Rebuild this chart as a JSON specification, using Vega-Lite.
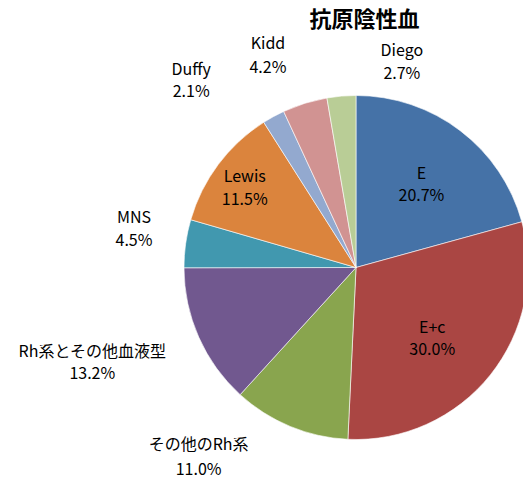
{
  "$schema": "https://vega.github.io/schema/vega-lite/v6.json",
  "width": 523,
  "height": 447,
  "autosize": {"type": "none"},
  "padding": {"top": 30, "left": 0, "right": 0, "bottom": 0},
  "background": "white",
  "title": {"text": "抗原陰性血", "font": "Noto Sans CJK JP", "fontSize": 22, "fontWeight": "bold", "color": "#000000", "anchor": "middle", "frame": "group", "baseline": "bottom", "offset": 0, "dx": 103, "dy": 27},
  "data": {"values": [
    {"idx": 1, "name": "E", "value": 20.7, "label": "E\n20.7%"},
    {"idx": 2, "name": "E+c", "value": 30.0, "label": "E+c\n30.0%"},
    {"idx": 3, "name": "その他のRh系", "value": 11.0, "label": "その他のRh系\n11.0%"},
    {"idx": 4, "name": "Rh系とその他血液型", "value": 13.2, "label": "Rh系とその他血液型\n13.2%"},
    {"idx": 5, "name": "MNS", "value": 4.5, "label": "MNS\n4.5%"},
    {"idx": 6, "name": "Lewis", "value": 11.5, "label": "Lewis\n11.5%"},
    {"idx": 7, "name": "Duffy", "value": 2.1, "label": "Duffy\n2.1%"},
    {"idx": 8, "name": "Kidd", "value": 4.2, "label": "Kidd\n4.2%"},
    {"idx": 9, "name": "Diego", "value": 2.7, "label": "Diego\n2.7%"}
  ]},
  "encoding": {
    "theta": {"field": "value", "type": "quantitative", "stack": true},
    "order": {"field": "idx", "type": "quantitative"},
    "x": {"value": 356},
    "y": {"value": 237.5}
  },
  "layer": [
    {
      "mark": {"type": "arc", "outerRadius": 172, "stroke": "#ffffff", "strokeWidth": 0.6},
      "encoding": {
        "color": {"field": "name", "type": "nominal", "legend": null,
          "scale": {"domain": ["E", "E+c", "その他のRh系", "Rh系とその他血液型", "MNS", "Lewis", "Duffy", "Kidd", "Diego"],
                    "range": ["#4572A7", "#AA4643", "#89A54E", "#71588F", "#4198AF", "#DB843D", "#93A9CF", "#D19392", "#B9CD96"]}}
      }
    },
    {
      "mark": {"type": "text", "radius": 108, "dy": -8, "font": "Noto Sans CJK JP", "fontSize": 16, "lineHeight": 22, "lineBreak": "\n", "baseline": "middle", "align": "center", "color": "#000000"},
      "encoding": {"text": {"condition": {"test": "datum.name === 'E'", "field": "label"}, "value": ""}}
    },
    {
      "mark": {"type": "text", "radius": 104, "dx": -5, "dy": -4, "font": "Noto Sans CJK JP", "fontSize": 16, "lineHeight": 22, "lineBreak": "\n", "baseline": "middle", "align": "center", "color": "#000000"},
      "encoding": {"text": {"condition": {"test": "datum.name === 'E+c'", "field": "label"}, "value": ""}}
    },
    {
      "mark": {"type": "text", "radius": 139, "dy": -7, "font": "Noto Sans CJK JP", "fontSize": 16, "lineHeight": 23, "lineBreak": "\n", "baseline": "middle", "align": "center", "color": "#000000"},
      "encoding": {"text": {"condition": {"test": "datum.name === 'Lewis'", "field": "label"}, "value": ""}}
    },
    {
      "mark": {"type": "text", "radius": 202, "dx": -80, "dy": -9, "font": "Noto Sans CJK JP", "fontSize": 16, "lineHeight": 25, "lineBreak": "\n", "baseline": "middle", "align": "center", "color": "#000000"},
      "encoding": {"text": {"condition": {"test": "datum.name === 'その他のRh系'", "field": "label"}, "value": ""}}
    },
    {
      "mark": {"type": "text", "radius": 202, "dx": -79, "dy": 3, "font": "Noto Sans CJK JP", "fontSize": 16, "lineHeight": 22, "lineBreak": "\n", "baseline": "middle", "align": "center", "color": "#000000"},
      "encoding": {"text": {"condition": {"test": "datum.name === 'Rh系とその他血液型'", "field": "label"}, "value": ""}}
    },
    {
      "mark": {"type": "text", "radius": 202, "dx": -22, "dy": -21, "font": "Noto Sans CJK JP", "fontSize": 16, "lineHeight": 23, "lineBreak": "\n", "baseline": "middle", "align": "center", "color": "#000000"},
      "encoding": {"text": {"condition": {"test": "datum.name === 'MNS'", "field": "label"}, "value": ""}}
    },
    {
      "mark": {"type": "text", "radius": 202, "dx": -68, "dy": -20, "font": "Noto Sans CJK JP", "fontSize": 16, "lineHeight": 22, "lineBreak": "\n", "baseline": "middle", "align": "center", "color": "#000000"},
      "encoding": {"text": {"condition": {"test": "datum.name === 'Duffy'", "field": "label"}, "value": ""}}
    },
    {
      "mark": {"type": "text", "radius": 202, "dx": -28, "dy": -31, "font": "Noto Sans CJK JP", "fontSize": 16, "lineHeight": 24, "lineBreak": "\n", "baseline": "middle", "align": "center", "color": "#000000"},
      "encoding": {"text": {"condition": {"test": "datum.name === 'Kidd'", "field": "label"}, "value": ""}}
    },
    {
      "mark": {"type": "text", "radius": 202, "dx": 63, "dy": -15, "font": "Noto Sans CJK JP", "fontSize": 16, "lineHeight": 23, "lineBreak": "\n", "baseline": "middle", "align": "center", "color": "#000000"},
      "encoding": {"text": {"condition": {"test": "datum.name === 'Diego'", "field": "label"}, "value": ""}}
    }
  ],
  "config": {"view": {"stroke": null}}
}
